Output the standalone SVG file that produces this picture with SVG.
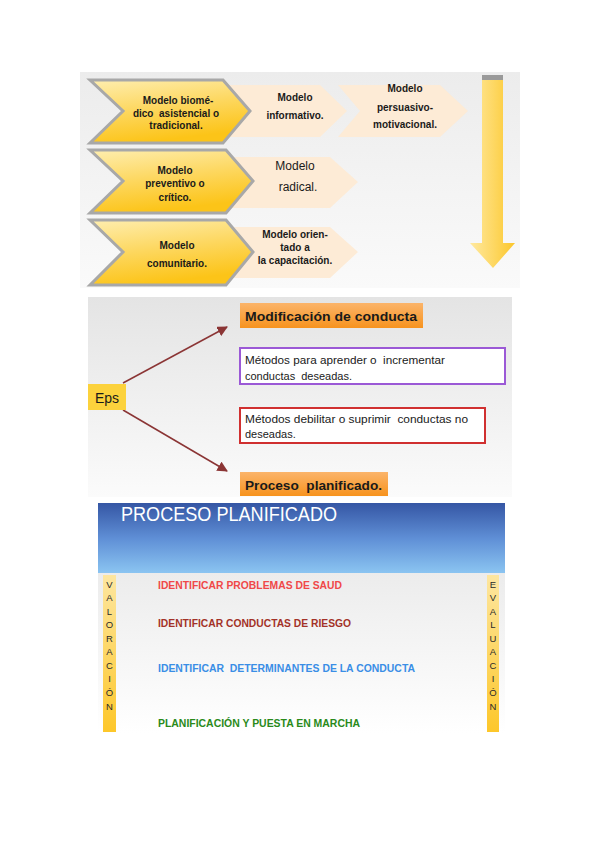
<svg xmlns="http://www.w3.org/2000/svg" width="600" height="848" viewBox="0 0 600 848">
<defs>
<linearGradient id="bg1" x1="0" y1="0" x2="0" y2="1"><stop offset="0" stop-color="#ececec"/><stop offset="1" stop-color="#fafafa"/></linearGradient>
<linearGradient id="bg2" x1="0" y1="0" x2="0" y2="1"><stop offset="0" stop-color="#e4e4e4"/><stop offset="1" stop-color="#fbfbfb"/></linearGradient>
<linearGradient id="bg3" x1="0" y1="0" x2="0" y2="1"><stop offset="0" stop-color="#ececec"/><stop offset="1" stop-color="#ffffff"/></linearGradient>
<linearGradient id="blue" x1="0" y1="0" x2="0" y2="1"><stop offset="0" stop-color="#3556a4"/><stop offset="0.5" stop-color="#5f8fd6"/><stop offset="1" stop-color="#8cc6f2"/></linearGradient>
<linearGradient id="yel" x1="0" y1="0" x2="0.3" y2="1"><stop offset="0" stop-color="#feeeb0"/><stop offset="0.5" stop-color="#fdd862"/><stop offset="1" stop-color="#fcc418"/></linearGradient>
<linearGradient id="arr" x1="0" y1="0" x2="1" y2="0"><stop offset="0" stop-color="#ffe9a0"/><stop offset="0.6" stop-color="#fdd55a"/><stop offset="1" stop-color="#fcc62a"/></linearGradient>
<linearGradient id="org" x1="0" y1="0" x2="0" y2="1"><stop offset="0" stop-color="#fbb46a"/><stop offset="1" stop-color="#f7931e"/></linearGradient>
<linearGradient id="bar" x1="0" y1="0" x2="0" y2="1"><stop offset="0" stop-color="#fde6a0"/><stop offset="1" stop-color="#fdc72a"/></linearGradient>
<marker id="ah" viewBox="0 0 10 10" refX="9" refY="5" markerWidth="7" markerHeight="7" orient="auto"><path d="M0,0 L10,5 L0,10 Z" fill="#8b3535"/></marker>
</defs>
<style>
.t{font-family:"Liberation Sans",Arial,sans-serif;fill:#1a1a1a;white-space:pre}
.b{font-weight:bold}
.lc{fill:#fdebd6}
.yc{fill:url(#yel);stroke:#a8a8a8;stroke-width:3;stroke-linejoin:miter}
.s{font-size:10px}
.m{font-size:11px}
.v{font-family:"Liberation Sans",Arial,sans-serif;font-size:9.5px;fill:#2a2a2a;text-anchor:middle}
</style>
<rect x="80" y="72" width="440" height="216" fill="url(#bg1)"/>
<g id="arrowDown">
<rect x="482" y="75" width="21" height="6" fill="#9a9a9a"/>
<path d="M482,80 H503 V243 H515 L493,268 L470,243 H482 Z" fill="url(#arr)"/>
</g>
<g id="row1">
<polygon class="lc" points="225,85 320,85 347,111 320,137 225,137 247,111"/>
<polygon class="lc" points="338,85 440,85 468,111 440,137 338,137 360,111"/>
<polygon class="yc" points="90,80 223,80 250,111 223,143 90,143 123,111"/>
<text class="t b s" text-anchor="middle"><tspan x="178" y="104">Modelo biomé-</tspan><tspan x="176" y="117">dico  asistencial o</tspan><tspan x="176" y="129">tradicional.</tspan></text>
<text class="t b s" text-anchor="middle"><tspan x="295" y="101">Modelo</tspan><tspan x="295" y="119">informativo.</tspan></text>
<text class="t b s" text-anchor="middle"><tspan x="405" y="92">Modelo</tspan><tspan x="405" y="111">persuasivo-</tspan><tspan x="405" y="128">motivacional.</tspan></text>
</g>
<g id="row2">
<polygon class="lc" points="230,157 330,157 358,182 330,208 230,208 252,182"/>
<polygon class="yc" points="90,150 226,150 253,181 226,213 90,213 123,181"/>
<text class="t b s" text-anchor="middle"><tspan x="175" y="174">Modelo</tspan><tspan x="175" y="187">preventivo o</tspan><tspan x="175" y="201">crítico.</tspan></text>
<text class="t" font-size="12" text-anchor="middle"><tspan x="295" y="170">Modelo</tspan><tspan x="298" y="191">radical.</tspan></text>
</g>
<g id="row3">
<polygon class="lc" points="230,227 330,227 358,252 330,278 230,278 252,252"/>
<polygon class="yc" points="90,220 226,220 253,252 226,285 90,285 123,252"/>
<text class="t b s" text-anchor="middle"><tspan x="177" y="249">Modelo</tspan><tspan x="177" y="267">comunitario.</tspan></text>
<text class="t b s" text-anchor="middle"><tspan x="295" y="238">Modelo orien-</tspan><tspan x="295" y="251">tado a</tspan><tspan x="295" y="264">la capacitación.</tspan></text>
</g>
<rect x="88" y="297" width="424" height="200" fill="url(#bg2)"/>
<g id="connectors" stroke="#8b3535" stroke-width="1.5" fill="none">
<line x1="123" y1="383" x2="227" y2="327" marker-end="url(#ah)"/>
<line x1="123" y1="410" x2="227" y2="471" marker-end="url(#ah)"/>
</g>
<g id="eps">
<rect x="88" y="384" width="38" height="26" fill="#fcd23c"/>
<text class="t" x="95" y="403" font-size="14">Eps</text>
</g>
<g id="modificacion">
<rect x="240" y="303" width="183" height="25" fill="url(#org)"/>
<text class="t b" x="245" y="321" font-size="13" textLength="172" lengthAdjust="spacingAndGlyphs">Modificación de conducta</text>
</g>
<g id="metodos1">
<rect x="240" y="348" width="265" height="36" fill="#fff" stroke="#9b59d6" stroke-width="2"/>
<text class="t m"><tspan x="245" y="364" textLength="200" lengthAdjust="spacingAndGlyphs">Métodos para aprender o  incrementar</tspan><tspan x="245" y="380">conductas  deseadas.</tspan></text>
</g>
<g id="metodos2">
<rect x="240" y="408" width="245" height="35" fill="#fff" stroke="#d03030" stroke-width="2"/>
<text class="t m"><tspan x="245" y="423" textLength="223" lengthAdjust="spacingAndGlyphs">Métodos debilitar o suprimir  conductas no</tspan><tspan x="245" y="438">deseadas.</tspan></text>
</g>
<g id="proceso">
<rect x="240" y="472" width="148" height="24" fill="url(#org)"/>
<text class="t b" x="245" y="490" font-size="13" textLength="137" lengthAdjust="spacingAndGlyphs">Proceso  planificado.</text>
</g>
<g id="procesoPlanificado">
<rect x="98" y="503" width="407" height="71" fill="url(#blue)"/>
<rect x="98" y="573" width="407" height="160" fill="url(#bg3)"/>
<text x="121" y="521" font-family="Liberation Sans,Arial,sans-serif" font-size="20" fill="#fff" textLength="216" lengthAdjust="spacingAndGlyphs">PROCESO PLANIFICADO</text>
<rect x="103" y="575" width="13" height="157" fill="url(#bar)"/>
<rect x="487" y="575" width="12" height="157" fill="url(#bar)"/>
<text class="v"><tspan x="109.5" y="588">V</tspan><tspan x="109.5" y="601">A</tspan><tspan x="109.5" y="615">L</tspan><tspan x="109.5" y="628">O</tspan><tspan x="109.5" y="642">R</tspan><tspan x="109.5" y="655">A</tspan><tspan x="109.5" y="669">C</tspan><tspan x="109.5" y="682">I</tspan><tspan x="109.5" y="696">Ó</tspan><tspan x="109.5" y="710">N</tspan></text>
<text class="v"><tspan x="493" y="588">E</tspan><tspan x="493" y="601">V</tspan><tspan x="493" y="615">A</tspan><tspan x="493" y="628">L</tspan><tspan x="493" y="642">U</tspan><tspan x="493" y="655">A</tspan><tspan x="493" y="669">C</tspan><tspan x="493" y="682">I</tspan><tspan x="493" y="696">Ó</tspan><tspan x="493" y="710">N</tspan></text>
<text class="t b" x="158" y="589" font-size="10.5" style="fill:#f04848" textLength="184" lengthAdjust="spacingAndGlyphs">IDENTIFICAR PROBLEMAS DE SAUD</text>
<text class="t b" x="158" y="627" font-size="10.5" style="fill:#a33228" textLength="193" lengthAdjust="spacingAndGlyphs">IDENTIFICAR CONDUCTAS DE RIESGO</text>
<text class="t b" x="158" y="672" font-size="10.5" style="fill:#3a8ee6" textLength="257" lengthAdjust="spacingAndGlyphs">IDENTIFICAR  DETERMINANTES DE LA CONDUCTA</text>
<text class="t b" x="158" y="727" font-size="10.5" style="fill:#2a8a1a" textLength="202" lengthAdjust="spacingAndGlyphs">PLANIFICACIÓN Y PUESTA EN MARCHA</text>
</g>
</svg>
